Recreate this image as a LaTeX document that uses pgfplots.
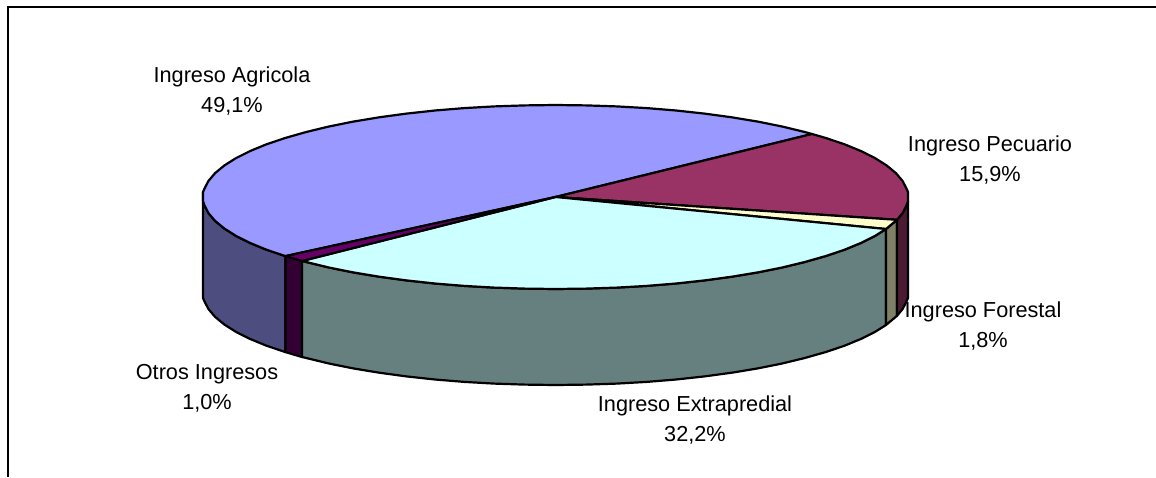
\documentclass[border=0pt]{standalone}
\usepackage{fontspec}
\setmainfont{Liberation Sans}
\usepackage{pgfplots}
\pgfplotsset{compat=1.18}
\definecolor{agri}{HTML}{9999FF}
\definecolor{pecu}{HTML}{993366}
\definecolor{fore}{HTML}{FFFFCC}
\definecolor{extr}{HTML}{CCFFFF}
\definecolor{otro}{HTML}{660066}
\definecolor{agris}{HTML}{4D4D80}
\definecolor{pecus}{HTML}{4D1A33}
\definecolor{fores}{HTML}{808066}
\definecolor{extrs}{HTML}{668080}
\definecolor{otros}{HTML}{330033}
\tikzset{lab/.style={font=\fontsize{21.7pt}{30pt}\selectfont, align=center, text=black, inner sep=0pt}}
\begin{document}
\begin{tikzpicture}
\begin{axis}[
  scale only axis, width=1156pt, height=477pt,
  xmin=0, xmax=1156, ymin=0, ymax=477, y dir=reverse,
  ticks=none, axis line style={draw=none},
  pie/.style={draw=black, line width=2.2pt, line join=round},
]
% frame
\addplot[draw=black, line width=2.6pt] coordinates {(8,477) (8,7) (1156,7)};
% sides
\addplot[pie, fill=agris] coordinates {(203,192) (203,201) (204.3,205) (208.4,213) (215,220.8) (224.3,228.5) (236,235.9) (250.2,243) (266.7,249.8) (285.5,256.1)
  (285.5,352.1) (266.7,345.8) (250.2,339) (236,331.9) (224.3,324.5) (215,316.8) (208.4,309) (204.3,301) (203,298)} -- cycle;
\addplot[pie, fill=otros] coordinates {(285.5,256.1) (302,261) (302,357) (285.5,352.1)} -- cycle;
\addplot[pie, fill=extrs] coordinates {(302,261) (306.2,262) (328.9,267.5) (353.3,272.4) (379.2,276.7) (406.5,280.4) (434.9,283.5) (464.3,285.9) (494.3,287.6) (524.8,288.6) (555.5,289) (586.2,288.6) (616.7,287.6) (646.7,285.9) (676.1,283.5) (704.5,280.4) (731.8,276.7) (757.7,272.4) (782.1,267.5) (804.8,262) (825.5,256.1) (844.3,249.8) (860.8,243) (875,235.9) (886,229)
  (886,325) (875,331.9) (860.8,339) (844.3,345.8) (825.5,352.1) (804.8,358) (782.1,363.5) (757.7,368.4) (731.8,372.7) (704.5,376.4) (676.1,379.5) (646.7,381.9) (616.7,383.6) (586.2,384.6) (555.5,385) (524.8,384.6) (494.3,383.6) (464.3,381.9) (434.9,379.5) (406.5,376.4) (379.2,372.7) (353.3,368.4) (328.9,363.5) (306.2,358) (302,357)} -- cycle;
\addplot[pie, fill=fores] coordinates {(886,229) (897,219.8) (897,315.8) (886,325)} -- cycle;
\addplot[pie, fill=pecus] coordinates {(897,219.8) (902.6,213) (906.7,205) (908,201) (908,298) (906.7,301) (902.6,309) (897,315.8)} -- cycle;
% top wedges
\addplot[pie, fill=agri] coordinates {(555.5,197) (285.5,256.1) (266.7,249.8) (250.2,243) (236,235.9) (224.3,228.5) (215,220.8) (208.4,213) (204.3,205) (203,201) (203,192) (204.3,189) (208.4,181) (215,173.2) (224.3,165.5) (236,158.1) (250.2,151) (266.7,144.2) (285.5,137.9) (306.2,132) (328.9,126.5) (353.3,121.6) (379.2,117.3) (406.5,113.6) (434.9,110.5) (464.3,108.1) (494.3,106.4) (524.8,105.4) (555.5,105) (586.2,105.4) (616.7,106.4) (646.7,108.1) (676.1,110.5) (704.5,113.6) (731.8,117.3) (757.7,121.6) (782.1,126.5) (804.8,132) (812,134)} -- cycle;
\addplot[pie, fill=pecu] coordinates {(555.5,197) (812,134) (825.5,137.9) (844.3,144.2) (860.8,151) (875,158.1) (886.7,165.5) (896,173.2) (902.6,181) (906.7,189) (908,192) (908,201) (906.7,205) (902.6,213) (897,219.8)} -- cycle;
\addplot[pie, fill=fore] coordinates {(555.5,197) (897,219.8) (886,229)} -- cycle;
\addplot[pie, fill=extr] coordinates {(555.5,197) (886,229) (875,235.9) (860.8,243) (844.3,249.8) (825.5,256.1) (804.8,262) (782.1,267.5) (757.7,272.4) (731.8,276.7) (704.5,280.4) (676.1,283.5) (646.7,285.9) (616.7,287.6) (586.2,288.6) (555.5,289) (524.8,288.6) (494.3,287.6) (464.3,285.9) (434.9,283.5) (406.5,280.4) (379.2,276.7) (353.3,272.4) (328.9,267.5) (306.2,262) (302,261)} -- cycle;
\addplot[pie, fill=otro] coordinates {(555.5,197) (302,261) (285.5,256.1)} -- cycle;
% labels
\node[lab] at (axis cs:232,91) {Ingreso Agricola\\49,1\%};
\node[lab] at (axis cs:990,160) {Ingreso Pecuario\\15,9\%};
\node[lab] at (axis cs:983,326) {Ingreso Forestal\\1,8\%};
\node[lab] at (axis cs:695,420) {Ingreso Extrapredial\\32,2\%};
\node[lab] at (axis cs:207,388) {Otros Ingresos\\1,0\%};
\end{axis}
\end{tikzpicture}
\end{document}
